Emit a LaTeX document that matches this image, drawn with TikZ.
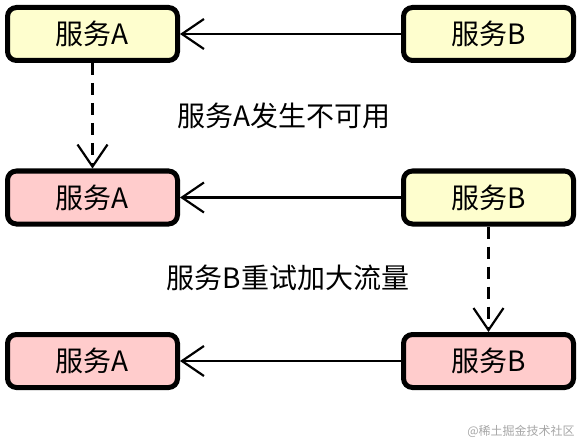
\documentclass[tikz,border=0pt]{standalone}
\usepackage{fontspec}
\setmainfont{Noto Sans CJK SC}
\usetikzlibrary{arrows.meta}
\definecolor{svcyellow}{RGB}{254, 254, 206}
\definecolor{svcpink}{RGB}{255, 204, 204}
\tikzset{
    svc/.style={draw, line width=5pt, rounded corners=9pt, minimum width=170pt,
        minimum height=53pt, font=\fontsize{28}{32}\selectfont},
    call/.style={line width=2.2pt, -{Straight Barb[length=22pt, width=30pt]}},
    fail/.style={call, dash pattern=on 12pt off 8pt},
    note/.style={font=\fontsize{28}{32}\selectfont}
}

\begin{document}
\begin{tikzpicture}[x=1pt, y=-1pt]
    \useasboundingbox (0, 0) rectangle (581, 441);
    \node[svc, fill=svcyellow] (a1) at (92.5, 34) {服务A};
    \node[svc, fill=svcyellow] (b1) at (488.5, 34) {服务B};
    \node[svc, fill=svcpink] (a2) at (92.5, 197.5) {服务A};
    \node[svc, fill=svcyellow] (b2) at (488.5, 197.5) {服务B};
    \node[svc, fill=svcpink] (a3) at (92.5, 361) {服务A};
    \node[svc, fill=svcpink] (b3) at (488.5, 361) {服务B};

    \node[note] (down) at (284, 116) {服务A发生不可用};
    \node[note] (retry) at (288, 278) {服务B重试加大流量};
    \node[font=\fontsize{12}{14}\selectfont, text=black!35] (mark) at (521, 431)
        {@稀土掘金技术社区};

    \draw[call] (b1) -- (a1);
    \draw[call] (b2) -- (a2);
    \draw[call] (b3) -- (a3);
    \draw[fail] (a1) -- (a2);
    \draw[fail] (b2) -- (b3);
\end{tikzpicture}
\end{document}
